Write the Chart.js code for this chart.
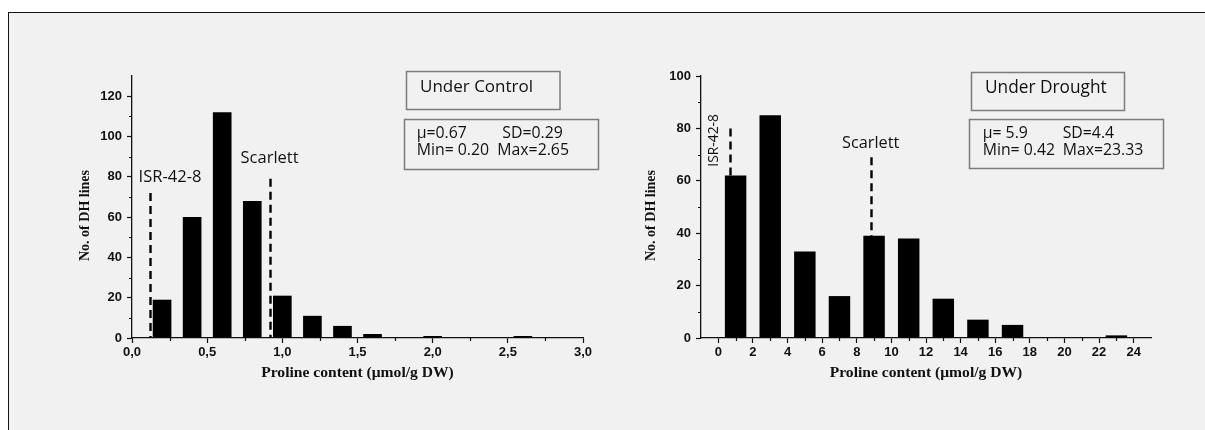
<!DOCTYPE html>
<html>
<head>
<meta charset="utf-8">
<title>Proline content of DH lines</title>
<script src="https://cdn.jsdelivr.net/npm/chart.js@4.4.1/dist/chart.umd.min.js"></script>
<style>
  html, body { margin: 0; padding: 0; background: #ffffff; }
  body { width: 1205px; height: 430px; position: relative; overflow: hidden; }
  #frame {
    position: absolute; left: 8px; top: 12px; width: 1197px; height: 418px;
    background: #f1f1f1; border-top: 1px solid #151515; border-left: 1px solid #151515;
    box-sizing: border-box;
  }
  canvas { position: absolute; top: 0; }
  #controlChart { left: 0; }
  #droughtChart { left: 602px; }
</style>
</head>
<body>
<div id="frame"></div>
<canvas id="controlChart" width="602" height="430"></canvas>
<canvas id="droughtChart" width="603" height="430"></canvas>
<script>
// Histogram bins (class centres) and counts of DH lines
const controlBins = [0.2, 0.4, 0.6, 0.8, 1.0, 1.2, 1.4, 1.6, 1.8, 2.0, 2.2, 2.4, 2.6];
const controlCounts = [19, 60, 112, 68, 21, 11, 6, 2, 0, 1, 0, 0, 1];
const droughtBins = [1, 3, 5, 7, 9, 11, 13, 15, 17, 19, 21, 23];
const droughtCounts = [62, 85, 33, 16, 39, 38, 15, 7, 5, 0, 0, 1];

// Axis ticks
const controlXTicks = [0, 0.5, 1, 1.5, 2, 2.5, 3];
const controlXTickLabels = ['0,0', '0,5', '1,0', '1,5', '2,0', '2,5', '3,0'];
const controlYTicks = [0, 20, 40, 60, 80, 100, 120];
const droughtXTicks = [0, 2, 4, 6, 8, 10, 12, 14, 16, 18, 20, 22, 24];
const droughtXTickLabels = ['0', '2', '4', '6', '8', '10', '12', '14', '16', '18', '20', '22', '24'];
const droughtYTicks = [0, 20, 40, 60, 80, 100];

// Parental lines marked on each histogram (proline value, height of the marker line)
const markerNames = ['ISR-42-8', 'Scarlett'];
const controlMarkerX = [0.12, 0.915];
const controlMarkerTop = [72, 79];
const droughtMarkerX = [0.65, 8.8];
const droughtMarkerTop = [80, 69];

// Panel captions and summary statistics
const controlTitle = 'Under Control';
const droughtTitle = 'Under Drought';
const controlStats = [['μ=0.67', 'SD=0.29'], ['Min= 0.20', 'Max=2.65']];
const droughtStats = [['μ= 5.9', 'SD=4.4'], ['Min= 0.42', 'Max=23.33']];

const xAxisTitle = 'Proline content (μmol/g DW)';
const yAxisTitle = 'No. of DH lines';

const SANS = "'Open Sans'";
const INK = '#111111';

Chart.defaults.font.family = "'Liberation Sans'";
Chart.defaults.color = INK;

function fitSize(ctx, text, family, width) {
  ctx.font = '100px ' + family;
  return 100 * width / ctx.measureText(text).width;
}

function midpoints(values) {
  const out = [];
  for (let i = 1; i < values.length; i++) out.push((values[i - 1] + values[i]) / 2);
  return out;
}

function annotator(panel) {
  return {
    id: 'annotate_' + panel.canvas,
    beforeDatasetsDraw(chart) {
      // dashed marker lines, drawn under the bars
      const ctx = chart.ctx, xs = chart.scales.x, ys = chart.scales.y;
      ctx.save();
      ctx.strokeStyle = '#000';
      ctx.lineWidth = 2.4;
      ctx.setLineDash([8, 5]);
      panel.markerX.forEach((mx, i) => {
        const px = Math.round(xs.getPixelForValue(mx)) + 0.5;
        ctx.beginPath();
        ctx.moveTo(px, ys.getPixelForValue(panel.markerTop[i]));
        ctx.lineTo(px, ys.getPixelForValue(0));
        ctx.stroke();
      });
      ctx.restore();
    },
    afterDraw(chart) {
      const ctx = chart.ctx, xs = chart.scales.x, ys = chart.scales.y, area = chart.chartArea;
      ctx.save();

      // minor ticks
      ctx.strokeStyle = INK;
      ctx.lineWidth = 1.2;
      ctx.beginPath();
      midpoints(panel.yTicks).forEach(v => {
        const py = Math.round(ys.getPixelForValue(v)) + 0.5;
        ctx.moveTo(area.left - 3, py); ctx.lineTo(area.left, py);
      });
      midpoints(panel.xTicks).forEach(v => {
        const px = Math.round(xs.getPixelForValue(v)) + 0.5;
        ctx.moveTo(px, area.bottom); ctx.lineTo(px, area.bottom + 3);
      });
      ctx.stroke();

      // y axis title
      ctx.fillStyle = INK;
      ctx.font = "bold 14px 'Liberation Serif'";
      ctx.textAlign = 'center';
      ctx.textBaseline = 'middle';
      ctx.save();
      ctx.translate(area.left - panel.yTitleGap, (area.top + area.bottom) / 2 + 8.5);
      ctx.rotate(-Math.PI / 2);
      ctx.fillText(yAxisTitle, 0, 0);
      ctx.restore();

      // marker names
      panel.markerX.forEach((mx, i) => {
        const lab = panel.labels[i];
        const px = xs.getPixelForValue(mx) + lab.dx;
        const py = ys.getPixelForValue(panel.markerTop[i]) + lab.dy;
        const size = fitSize(ctx, markerNames[i], SANS, lab.w);
        ctx.font = size.toFixed(2) + 'px ' + SANS;
        ctx.textAlign = 'center';
        ctx.textBaseline = 'middle';
        ctx.save();
        ctx.translate(px, py);
        if (lab.rot) ctx.rotate(-Math.PI / 2);
        ctx.fillText(markerNames[i], 0, 0);
        ctx.restore();
      });

      // caption box
      const tb = panel.titleBox;
      ctx.strokeStyle = '#7c7c7c';
      ctx.lineWidth = 1.5;
      ctx.strokeRect(tb.x, tb.y, tb.w, tb.h);
      ctx.font = fitSize(ctx, panel.title, SANS, tb.tw).toFixed(2) + 'px ' + SANS;
      ctx.textAlign = 'left';
      ctx.fillText(panel.title, tb.tx, tb.ty);

      // statistics box
      const sb = panel.statsBox;
      ctx.strokeRect(sb.x, sb.y, sb.w, sb.h);
      ctx.font = fitSize(ctx, sb.fitText, SANS, sb.fitW).toFixed(2) + 'px ' + SANS;
      panel.stats.forEach((row, r) => {
        row.forEach((txt, c) => ctx.fillText(txt, sb.cols[r][c], sb.rows[r]));
      });

      ctx.restore();
    }
  };
}

function buildChart(panel) {
  const tickFont = { family: "'Liberation Sans'", weight: 'bold', size: 13 };
  return new Chart(document.getElementById(panel.canvas), {
    type: 'bar',
    data: {
      datasets: [{
        data: panel.bins.map((x, i) => ({ x: x, y: panel.counts[i] })),
        backgroundColor: '#000000',
        borderWidth: 0,
        barPercentage: 0.62,
        categoryPercentage: 1.0
      }]
    },
    options: {
      responsive: false,
      animation: false,
      events: [],
      layout: { padding: panel.pad },
      plugins: { legend: { display: false }, tooltip: { enabled: false } },
      scales: {
        x: {
          type: 'linear',
          bounds: 'data',
          min: panel.xMin,
          max: panel.xMax,
          offset: false,
          afterBuildTicks: s => { s.ticks = panel.xTicks.map(v => ({ value: v })); },
          afterFit: s => { s.height = 50; s.paddingLeft = 0; s.paddingRight = 0; },
          grid: { offset: false, drawOnChartArea: false, drawTicks: true, tickLength: 5, tickColor: INK, tickWidth: 1.2 },
          border: { display: true, color: INK, width: 1.3 },
          ticks: {
            autoSkip: false, maxRotation: 0, minRotation: 0, padding: 2, color: INK, font: tickFont,
            callback: (v, i) => panel.xLabels[i]
          },
          title: {
            display: true, text: xAxisTitle, color: INK,
            font: { family: "'Liberation Serif'", weight: 'bold', size: 15.6 },
            padding: { top: 0, bottom: 5.3 }
          }
        },
        y: {
          type: 'linear',
          bounds: 'data',
          min: 0,
          max: panel.yMax,
          afterBuildTicks: s => { s.ticks = panel.yTicks.map(v => ({ value: v })); },
          afterFit: s => { s.width = 60; s.paddingTop = 0; s.paddingBottom = 0; },
          grid: { drawOnChartArea: false, drawTicks: true, tickLength: 5, tickColor: INK, tickWidth: 1.2 },
          border: { display: true, color: INK, width: 1.3 },
          ticks: { padding: 5, color: INK, font: tickFont, callback: v => String(v) }
        }
      }
    },
    plugins: [annotator(panel)]
  });
}

const panels = [
  {
    canvas: 'controlChart',
    bins: controlBins, counts: controlCounts,
    xMin: 0, xMax: 3, yMax: 130,
    xTicks: controlXTicks, xLabels: controlXTickLabels, yTicks: controlYTicks,
    markerX: controlMarkerX, markerTop: controlMarkerTop,
    title: controlTitle, stats: controlStats,
    pad: { left: 72, right: 19, top: 76, bottom: 42 },
    yTitleGap: 47,
    labels: [{ dx: 20, dy: -15.6, w: 63, rot: false }, { dx: 0, dy: -20.5, w: 58, rot: false }],
    titleBox: { x: 406.5, y: 71.5, w: 153.5, h: 38, tx: 420, ty: 87.5, tw: 113 },
    statsBox: { x: 404.5, y: 119.5, w: 194, h: 50, cols: [[416.7, 502.3], [416.7, 497.3]], rows: [133.3, 150.7], fitText: 'Max=2.65', fitW: 71.7 }
  },
  {
    canvas: 'droughtChart',
    bins: droughtBins, counts: droughtCounts,
    xMin: -1, xMax: 25, yMax: 100,
    xTicks: droughtXTicks, xLabels: droughtXTickLabels, yTicks: droughtYTicks,
    markerX: droughtMarkerX, markerTop: droughtMarkerTop,
    title: droughtTitle, stats: droughtStats,
    pad: { left: 39, right: 54, top: 76, bottom: 42 },
    yTitleGap: 49.3,
    labels: [{ dx: -16, dy: 12, w: 52.7, rot: true }, { dx: 0, dy: -14, w: 57.3, rot: false }],
    titleBox: { x: 369.5, y: 72.5, w: 153, h: 38, tx: 383, ty: 88.3, tw: 121.7 },
    statsBox: { x: 367.5, y: 119.5, w: 194, h: 49, cols: [[380.7, 460.7], [380.7, 460.7]], rows: [133.3, 150.7], fitText: 'Max=23.33', fitW: 80.6 }
  }
];

panels.forEach(buildChart);
</script>
</body>
</html>
